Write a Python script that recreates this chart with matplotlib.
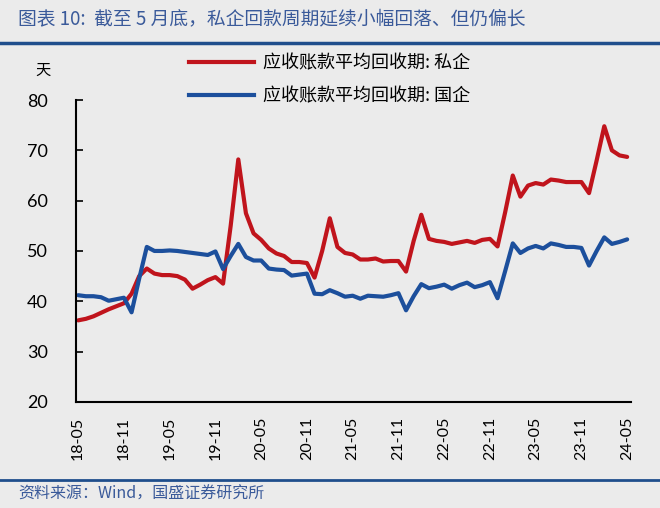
import numpy as np
import matplotlib
matplotlib.use("Agg")
import matplotlib.pyplot as plt
from matplotlib.lines import Line2D

plt.rcParams['font.family'] = ['Noto Sans CJK SC', 'DejaVu Sans']

# monthly, 2018-05 .. 2024-05
months = [f"{(2018 + (4 + k) // 12) % 100:02d}-{(4 + k) % 12 + 1:02d}" for k in range(73)]

private = [36.2, 36.5, 37.0, 37.7, 38.4, 39.0, 39.6, 41.5, 45.0, 46.5, 45.5, 45.2,
           45.2, 45.0, 44.3, 42.5, 43.3, 44.2, 44.8, 43.5, 55.0, 68.2, 57.5, 53.5,
           52.2, 50.5, 49.5, 49.0, 47.8, 47.8, 47.6, 44.7, 50.0, 56.5, 50.8, 49.6,
           49.3, 48.3, 48.3, 48.5, 47.9, 48.0, 48.0, 45.9, 52.0, 57.2, 52.4, 52.0,
           51.8, 51.4, 51.7, 52.0, 51.6, 52.2, 52.4, 50.9, 57.7, 65.0, 60.8, 63.0,
           63.5, 63.2, 64.2, 64.0, 63.7, 63.7, 63.7, 61.5, 68.0, 74.8, 70.0, 69.0,
           68.7]
state = [41.2, 41.0, 41.0, 40.8, 40.1, 40.4, 40.7, 37.8, 44.5, 50.8, 50.0, 50.0,
         50.1, 50.0, 49.8, 49.6, 49.4, 49.2, 49.9, 46.4, 49.0, 51.4, 48.8, 48.1,
         48.1, 46.5, 46.3, 46.2, 45.1, 45.3, 45.5, 41.5, 41.4, 42.2, 41.6, 40.9,
         41.1, 40.5, 41.1, 41.0, 40.9, 41.2, 41.6, 38.2, 41.0, 43.4, 42.6, 42.9,
         43.3, 42.5, 43.2, 43.7, 42.8, 43.2, 43.8, 40.6, 46.0, 51.5, 49.6, 50.5,
         51.0, 50.5, 51.5, 51.2, 50.8, 50.8, 50.6, 47.1, 50.0, 52.7, 51.4, 51.8,
         52.3]
labels = ["应收账款平均回收期: 私企", "应收账款平均回收期: 国企"]

bg = "#ebebeb"
red = "#c0141c"
blue = "#1c4f9c"
navy = "#1f4e8c"

fig = plt.figure(figsize=(6.6, 5.08), dpi=100, facecolor=bg)
ax = fig.add_axes([0.115, 0.209, 0.841, 0.594], facecolor=bg)

x = np.arange(len(months))
ax.plot(x, private, color=red, lw=3.0, solid_capstyle='round', solid_joinstyle='round')
ax.plot(x, state, color=blue, lw=3.0, solid_capstyle='round', solid_joinstyle='round')

ax.set_ylim(20, 80)
ax.set_xlim(-0.3, len(months) - 0.5)
ax.set_yticks(range(20, 81, 10))
ax.set_xticks(x[::6])
ax.set_xticklabels(months[::6], rotation=90, fontsize=11.5, family=['Lato', 'DejaVu Sans'])
for t in ax.get_yticklabels():
    t.set_fontsize(13)
    t.set_family(['Lato', 'DejaVu Sans'])
ax.tick_params(axis='y', direction='in', length=5, width=1.2, pad=20)
ax.tick_params(axis='x', length=0, pad=11)
for s in ['top', 'right']:
    ax.spines[s].set_visible(False)
for s in ['left', 'bottom']:
    ax.spines[s].set_linewidth(1.5)

fig.text(0.065, 0.862, "天", fontsize=11, ha='center', va='center')

handles = [Line2D([], [], color=red, lw=3.0), Line2D([], [], color=blue, lw=3.0)]
fig.legend(handles, labels, loc='center', bbox_to_anchor=(0.5, 0.843), ncol=1,
           frameon=False, fontsize=13, handlelength=3.6, labelspacing=0.85,
           handletextpad=0.5)

# title and footer
fig.text(0.027, 0.963, "图表 10:  截至 5 月底，私企回款周期延续小幅回落、但仍偏长",
         fontsize=13.5, color="#3a5a9a", va='center', ha='left', style='italic')
fig.add_artist(Line2D([0, 1], [0.915, 0.915], color=navy, lw=2.5, transform=fig.transFigure))
fig.add_artist(Line2D([0, 1], [0.055, 0.055], color=navy, lw=2.0, transform=fig.transFigure))
fig.text(0.027, 0.027, "资料来源：Wind，国盛证券研究所", fontsize=11.5, color="#3a5a9a",
         va='center', ha='left', style='italic')

fig.savefig("out.png", dpi=100, facecolor=bg)
